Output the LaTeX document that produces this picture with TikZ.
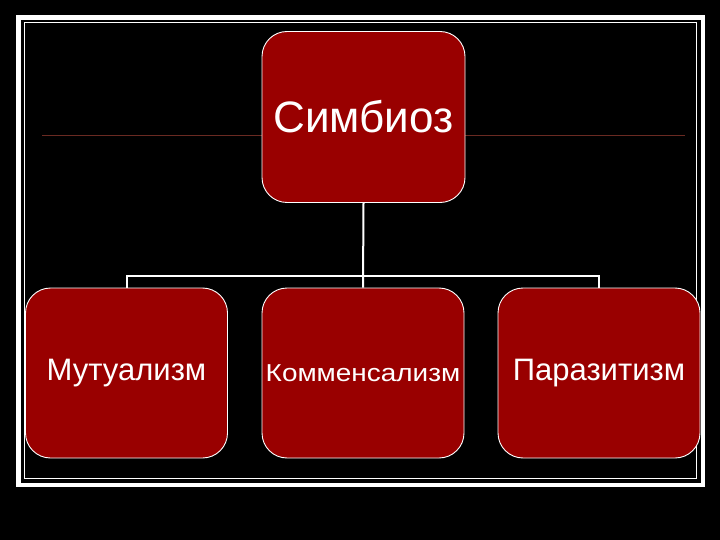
\documentclass[tikz,border=0pt]{standalone}
\usepackage{fontspec}
\setmainfont{Liberation Sans}
\definecolor{boxred}{HTML}{990000}
\definecolor{linered}{HTML}{6A2A22}
\begin{document}
\begin{tikzpicture}[x=1pt,y=-1pt,
  box/.style={rectangle, rounded corners=25pt, fill=boxred, draw=white, line width=0.9pt,
    minimum width=202pt, minimum height=170pt, inner sep=0pt, text=white, font=\fontsize{31}{36}\selectfont},
  conn/.style={draw=white, line width=2pt}]
\fill[black] (0,0) rectangle (720,540);
\useasboundingbox (0,0) rectangle (720,540);
\draw[white, line width=4.5pt] (18.25,17.5) rectangle (702.75,485);
\draw[white, line width=1pt] (24,23) rectangle (696,478);
\draw[linered, line width=1pt] (42,136) -- (685,136);
\node[box, minimum width=203pt, minimum height=171pt, font=\fontsize{44}{50}\selectfont] (top) at (363.5,117) {Симбиоз};
\node[box] (left) at (126.5,373) {\raisebox{-2pt}{Мутуализм}};
\node[box] (mid) at (363,373) {\raisebox{-2pt}{\scalebox{1.14}[1]{\fontsize{24.5}{28}\selectfont Комменсализм}}};
\node[box] (right) at (599,373) {\raisebox{-2pt}{Паразитизм}};
\coordinate (bus) at (363,276);
\draw[conn] (top.south) -- (mid.north);
\draw[conn] (left.north) |- (bus) -| (right.north);
\end{tikzpicture}
\end{document}
